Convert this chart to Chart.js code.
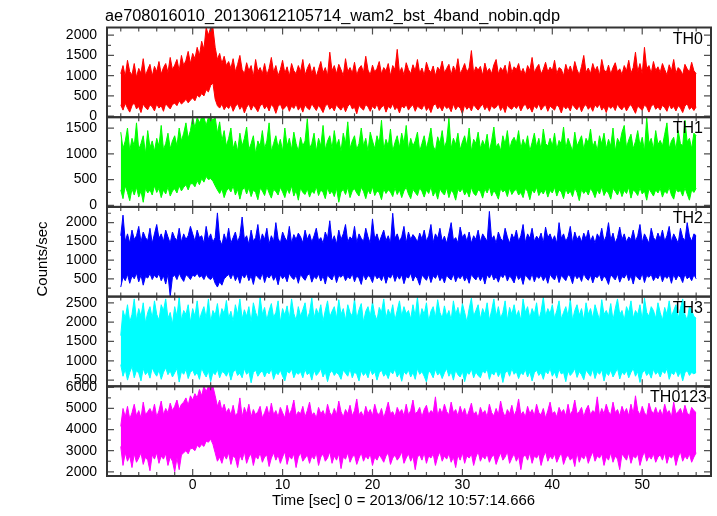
<!DOCTYPE html>
<html>
<head>
<meta charset="utf-8">
<script src="https://cdn.jsdelivr.net/npm/chart.js@4/dist/chart.umd.min.js"></script>
<style>
  html, body { margin: 0; background: #fff; }
  #wrap { position: relative; width: 717px; height: 516px; }
</style>
</head>
<body>
<div id="wrap"><canvas id="lc" width="717" height="516"></canvas></div>
<script>
// light curve bins: 0.25 s wide, first bin at t = -8 s
const T0 = -8;
const DT = 0.25;

const mainTitle = 'ae708016010_20130612105714_wam2_bst_4band_nobin.qdp';
const xTitle = 'Time [sec] 0 = 2013/06/12 10:57:14.666';
const yTitle = 'Counts/sec';

const panelNames = ['TH0', 'TH1', 'TH2', 'TH3', 'TH0123'];
const panelColors = ['#ff0000', '#00ff00', '#0000ff', '#00ffff', '#ff00ff'];
const yMin = [-25, -30, 25, 340, 1800];
const yMax = [2190, 1710, 2420, 2660, 6050];
const th0Ticks = [0, 500, 1000, 1500, 2000];
const th1Ticks = [0, 500, 1000, 1500];
const th2Ticks = [500, 1000, 1500, 2000];
const th3Ticks = [500, 1000, 1500, 2000, 2500];
const th0123Ticks = [2000, 3000, 4000, 5000, 6000];
const timeTicks = [0, 10, 20, 30, 40, 50];

// upper / lower envelope of each band (counts/sec)
const th0Upper = [
  1050, 1250, 980, 1380, 1100, 1020, 1300, 960, 1180, 1060, 1420, 1000, 1150, 1280, 990, 1230,
  1100, 1350, 1040, 1200, 1300, 1080, 1450, 1150, 1260, 1400, 1120, 1500, 1250, 1380, 1600, 1300,
  1550, 1420, 1700, 1500, 1850, 1650, 2190, 2000, 2190, 2190, 1700, 1400, 1550, 1300, 1480, 1250,
  1350, 1180, 1420, 1100, 1280, 1500, 1150, 1050, 1320, 1120, 1250, 980, 1400, 1100, 1200, 1050,
  1300, 1020, 1180, 1450, 1080, 1250, 1000, 1150, 1380, 1060, 1220, 990, 1300, 1120, 1050, 1250,
  1100, 1400, 1020, 1180, 1300, 1050, 1220, 980, 1160, 1350, 1070, 1200, 1000, 1580, 1120, 1250,
  1050, 1280, 1150, 1000, 1420, 1100, 1200, 1060, 1330, 1010, 1180, 1250, 1080, 1480, 1140, 1020,
  1260, 1090, 1180, 1350, 1040, 1200, 1120, 1300, 1000, 1250, 1150, 1650, 1080, 1200, 1020, 1320,
  1150, 1050, 1270, 1120, 1400, 1060, 1190, 1010, 1330, 1150, 1080, 1240, 1000, 1210, 1130, 1360,
  1070, 1180, 1280, 1020, 1240, 1100, 1420, 1050, 1160, 1300, 1090, 1190, 1620, 1060, 1220, 1140,
  1230, 1010, 1310, 1100, 1180, 1050, 1270, 1400, 1040, 1200, 1120, 1260, 990, 1350, 1080, 1220,
  1150, 1300, 1060, 1180, 1020, 1250, 1130, 1450, 1070, 1200, 1280, 1040, 1160, 1330, 1090, 1210,
  1120, 1380, 1050, 1200, 1160, 1000, 1280, 1100, 1240, 1060, 1350, 1150, 1020, 1230, 1500, 1080,
  1190, 1050, 1300, 1120, 1230, 1010, 1400, 1150, 1080, 1260, 1040, 1200, 1320, 1090, 1170, 1030,
  1250, 1120, 1380, 1060, 1200, 1580, 1100, 1300, 1040, 1700, 1180, 1250, 1060, 1350, 1130, 1220,
  1080, 1300, 1150, 1020, 1270, 1110, 1400, 1060, 1200, 1140, 1020, 1280, 1170, 1090, 1330, 1120,
  1050
];
const th0Lower = [
  280, 150, 320, 200, 100, 260, 330, 180, 240, 90, 300, 210, 160, 280, 230, 130,
  300, 200, 260, 120, 310, 240, 180, 290, 320, 260, 380, 300, 350, 420, 330, 400,
  450, 380, 520, 470, 560, 500, 650, 600, 760, 820, 420, 260, 200, 300, 160, 250,
  190, 290, 120, 240, 310, 170, 260, 80, 220, 300, 150, 270, 200, 110, 250, 310,
  180, 260, 130, 290, 220, 70, 240, 300, 160, 210, 280, 120, 250, 190, 300, 150,
  240, 100, 280, 200, 160, 310, 220, 140, 270, 190, 90, 250, 300, 170, 230, 130,
  290, 200, 150, 260, 110, 240, 310, 180, 220, 60, 270, 200, 150, 290, 230, 120,
  250, 180, 300, 140, 220, 270, 100, 240, 190, 310, 160, 230, 80, 260, 200, 290,
  150, 230, 280, 120, 250, 200, 170, 300, 140, 220, 90, 260, 310, 180, 240, 130,
  270, 190, 230, 110, 300, 160, 250, 200, 60, 280, 170, 240, 130, 290, 210, 150,
  230, 300, 160, 250, 120, 270, 190, 220, 310, 140, 240, 90, 280, 200, 170, 260,
  190, 280, 130, 240, 300, 170, 220, 100, 260, 190, 310, 150, 230, 280, 120, 250,
  200, 150, 290, 220, 80, 260, 180, 240, 130, 300, 210, 160, 270, 110, 230, 290,
  170, 240, 120, 280, 210, 300, 150, 230, 90, 260, 190, 250, 140, 300, 200, 160,
  260, 130, 230, 290, 180, 70, 250, 200, 140, 280, 220, 100, 240, 300, 170, 230,
  150, 270, 210, 120, 290, 180, 240, 130, 260, 200, 90, 250, 310, 170, 220, 140,
  230
];
const th1Upper = [
  1420, 1100, 1250, 1500, 1050, 1300, 1150, 1600, 1080, 1200, 1350, 1000, 1450, 1120, 1250, 1050,
  1300, 1150, 1550, 1080, 1200, 1400, 1100, 1250, 1350, 1150, 1500, 1250, 1400, 1600, 1300, 1450,
  1710, 1500, 1710, 1600, 1710, 1710, 1550, 1710, 1710, 1650, 1710, 1400, 1620, 1250, 1450, 1150,
  1300, 1500, 1100, 1250, 1050, 1400, 1150, 1300, 1520, 1080, 1200, 1350, 1000, 1250, 1150, 1450,
  1100, 1250, 1600, 1050, 1200, 1350, 1120, 1280, 1050, 1500, 1150, 1300, 1080, 1420, 1200, 1050,
  1320, 1150, 1250, 1680, 1100, 1200, 1400, 1050, 1300, 1150, 1550, 1080, 1250, 1350, 1100, 1450,
  1150, 1280, 1050, 1400, 1200, 1620, 1100, 1250, 1350, 1080, 1200, 1500, 1150, 1300, 1050, 1420,
  1250, 1100, 1350, 1200, 1650, 1080, 1280, 1150, 1480, 1050, 1220, 1350, 1120, 1400, 1200, 1550,
  1080, 1300, 1150, 1250, 1420, 1050, 1200, 1350, 1100, 1280, 1500, 1150, 1060, 1330, 1200, 1450,
  1120, 1250, 1690, 1100, 1300, 1180, 1400, 1080, 1230, 1350, 1150, 1500, 1050, 1280, 1200, 1420,
  1100, 1260, 1150, 1380, 1050, 1250, 1520, 1130, 1200, 1060, 1350, 1180, 1450, 1090, 1250, 1320,
  1200, 1450, 1100, 1280, 1150, 1350, 1050, 1220, 1400, 1130, 1300, 1080, 1480, 1200, 1150, 1300,
  1150, 1400, 1080, 1260, 1200, 1520, 1100, 1300, 1180, 1050, 1420, 1150, 1250, 1350, 1080, 1300,
  1210, 1480, 1130, 1250, 1060, 1350, 1190, 1400, 1100, 1280, 1150, 1500, 1050, 1300, 1200, 1420,
  1550, 1120, 1270, 1380, 1100, 1240, 1450, 1160, 1320, 1050, 1700, 1200, 1300, 1090, 1450, 1180,
  1260, 1150, 1380, 1600, 1100, 1250, 1320, 1080, 1450, 1200, 1150, 1650, 1230, 1300, 1100, 1400,
  1350
];
const th1Lower = [
  300, 130, 380, 250, 90, 320, 200, 350, 160, 280, 60, 330, 240, 300, 200, 380,
  250, 330, 150, 300, 220, 360, 180, 280, 320, 240, 380, 280, 350, 400, 300, 420,
  420, 360, 480, 400, 520, 450, 560, 500, 520, 470, 380, 300, 230, 320, 150, 280,
  330, 260, 380, 200, 310, 120, 290, 350, 220, 340, 170, 300, 250, 110, 330, 280,
  190, 360, 240, 140, 310, 270, 200, 350, 260, 150, 320, 230, 380, 180, 290, 100,
  340, 250, 210, 320, 160, 280, 230, 360, 190, 300, 250, 130, 340, 220, 280, 170,
  330, 60, 260, 310, 210, 350, 150, 280, 320, 240, 180, 350, 270, 130, 300, 220,
  360, 190, 280, 250, 110, 320, 230, 300, 260, 170, 340, 210, 300, 150, 280, 350,
  220, 130, 310, 250, 190, 340, 270, 160, 300, 230, 360, 180, 280, 120, 320, 250,
  200, 340, 150, 290, 240, 100, 310, 260, 330, 200, 280, 160, 350, 230, 190, 300,
  270, 140, 320, 240, 360, 180, 290, 220, 120, 330, 260, 300, 170, 340, 210, 280,
  310, 200, 250, 150, 330, 270, 110, 300, 240, 350, 190, 280, 220, 320, 160, 290,
  240, 350, 180, 300, 260, 130, 320, 220, 280, 170, 340, 250, 90, 310, 230, 290,
  200, 330, 260, 150, 300, 220, 360, 190, 280, 240, 120, 330, 270, 200, 310, 170,
  290, 230, 350, 140, 300, 260, 190, 340, 220, 280, 100, 320, 250, 180, 300, 240,
  330, 160, 280, 230, 350, 200, 120, 310, 260, 290, 180, 340, 220, 100, 300, 250,
  330
];
const th2Upper = [
  1650, 2200, 1500, 1700, 1450, 1800, 1550, 1650, 1900, 1480, 1750, 1600, 1520, 1850, 1450, 1700,
  1950, 1580, 1700, 1500, 1800, 1620, 1450, 1750, 1600, 1520, 1850, 1480, 1700, 1550, 1650, 1900,
  1700, 1500, 1800, 1600, 1650, 1450, 1900, 1550, 1700, 1480, 1600, 2260, 1550, 1400, 1700, 1500,
  1850, 1450, 1600, 1750, 1480, 1650, 2150, 1550, 1650, 1420, 1800, 1500, 1600, 1950, 1470, 1700,
  1550, 1850, 1430, 1650, 1500, 2000, 1580, 1450, 1750, 1600, 1500, 1900, 1450, 1680, 1550, 1720,
  1620, 1460, 1800, 1550, 1700, 1480, 1650, 1850, 1520, 1600, 1450, 1750, 1580, 2050, 1500, 1650,
  1430, 1800, 1550, 1700, 1950, 1480, 1620, 1550, 1900, 1460, 1700, 1580, 1500, 1850, 1620, 1450,
  2100, 1560, 1700, 1480, 1640, 1800, 1520, 1650, 1450, 2250, 1580, 1700, 1500, 1620, 1900, 1460,
  1750, 1550, 1680, 1600, 1480, 1720, 1560, 1800, 1500, 1650, 1950, 1470, 1700, 1580, 1850, 1500,
  1640, 1450, 1720, 2000, 1530, 1600, 1460, 1880, 1600, 1700, 1500, 1750, 1450, 1650, 1550, 1800,
  1480, 1700, 1600, 1500, 2300, 1550, 1650, 1450, 1750, 1580, 1500, 1850, 1620, 1450, 1700, 1560,
  1800, 1500, 1650, 1950, 1470, 1700, 1580, 1850, 1500, 1640, 1550, 1720, 1460, 1880, 1600, 1700,
  1520, 1650, 1450, 2000, 1580, 1700, 1500, 1620, 1900, 1460, 1750, 1550, 1650, 1480, 1720, 1560,
  1800, 1500, 1650, 1450, 1700, 1580, 1850, 1500, 1640, 2000, 1530, 1720, 1460, 1600, 1880, 1550,
  1700, 1480, 1620, 1550, 1800, 1500, 1650, 1950, 1470, 1700, 1580, 1450, 1850, 1600, 1520, 1720,
  1560, 1800, 1500, 1650, 1900, 1480, 1700, 1580, 1450, 1850, 1600, 1520, 2000, 1640, 1500, 1700,
  1650
];
const th2Lower = [
  280, 550, 450, 620, 380, 580, 500, 650, 420, 600, 330, 560, 520, 640, 480, 600,
  520, 640, 450, 580, 360, 620, 30, 540, 600, 480, 650, 520, 430, 610, 560, 480,
  600, 560, 650, 540, 580, 480, 620, 520, 480, 560, 380, 280, 420, 330, 500, 560,
  620, 500, 650, 450, 580, 380, 610, 520, 640, 450, 580, 350, 620, 540, 480, 660,
  400, 590, 520, 630, 460, 570, 340, 610, 500, 580, 420, 650, 540, 480, 600, 380,
  620, 530, 460, 590, 640, 410, 560, 500, 630, 440, 580, 360, 610, 520, 470, 650,
  400, 590, 540, 620, 450, 560, 500, 640, 420, 580, 510, 350, 620, 470, 590, 540,
  400, 630, 500, 560, 450, 610, 380, 570, 520, 640, 430, 590, 490, 610, 370, 560,
  520, 650, 440, 580, 500, 330, 600, 530, 460, 620, 400, 580, 510, 640, 450, 560,
  390, 600, 520, 470, 630, 420, 570, 500, 610, 440, 560, 380, 620, 530, 470, 600,
  450, 580, 360, 610, 520, 640, 470, 560, 410, 600, 530, 650, 440, 580, 500, 390,
  620, 480, 560, 350, 610, 530, 460, 640, 420, 580, 510, 600, 450, 570, 380, 620,
  530, 470, 640, 400, 590, 520, 450, 610, 560, 370, 620, 500, 580, 430, 650, 520,
  460, 600, 390, 570, 530, 620, 440, 580, 500, 350, 610, 540, 470, 630, 410, 560,
  520, 640, 450, 580, 360, 610, 520, 470, 650, 400, 590, 540, 620, 450, 560, 500,
  640, 420, 580, 510, 600, 380, 620, 470, 590, 540, 400, 630, 500, 560, 450, 610,
  500
];
const th3Upper = [
  1650, 2300, 2100, 2450, 2000, 2200, 2600, 2050, 2350, 2150, 2500, 1980, 2250, 2400, 2100, 2550,
  2200, 2050, 2450, 2300, 2600, 2100, 2250, 1950, 2400, 2150, 2650, 2050, 2300, 2200, 2450, 2000,
  2350, 2150, 2550, 2050, 2250, 2400, 2100, 2600, 2000, 2300, 2180, 2480, 2050, 2350, 2220, 2560,
  2100, 2280, 2020, 2450, 2200, 2600, 2080, 2320, 2150, 2400, 2000, 2500, 2250, 2100, 2650, 2200,
  2380, 2050, 2300, 2480, 2120, 2250, 2550, 2000, 2350, 2180, 2420, 2080, 2600, 2220, 2050, 2400,
  2150, 2320, 2500, 2080, 2250, 2620, 2100, 2350, 2200, 2450, 2020, 2300, 2550, 2130, 2280, 2400,
  2100, 2580, 2200, 2350, 2050, 2450, 2250, 2150, 2600, 2080, 2320, 2480, 2000, 2280, 2400, 2150,
  2520, 2200, 2050, 2380, 2250, 2600, 2100, 2330, 2180, 2450, 2050, 2300, 2550, 2150, 2400, 2220,
  2300, 2080, 2450, 2150, 2650, 2050, 2350, 2200, 2500, 2020, 2280, 2400, 2120, 2580, 2250, 2100,
  2420, 2150, 2300, 2050, 2550, 2200, 2380, 2100, 2480, 2250, 2000, 2350, 2620, 2150, 2300, 2450,
  2080, 2350, 2200, 2500, 2050, 2300, 2600, 2150, 2400, 2100, 2250, 2550, 2050, 2380, 2200, 2450,
  2150, 2300, 2050, 2600, 2250, 2400, 2100, 2350, 2200, 2500, 2050, 2280, 2650, 2150, 2350, 2220,
  2450, 2100, 2300, 2550, 2080, 2250, 2400, 2150, 2600, 2050, 2300, 2450, 2180, 2350, 2050, 2500,
  2200, 2350, 2100, 2450, 2250, 2050, 2580, 2200, 2300, 2150, 2480, 2050, 2350, 2600, 2200, 2300,
  2050, 2400, 2250, 2550, 2100, 2300, 2200, 2450, 2050, 2620, 2250, 2150, 2400, 2300, 2100, 2500,
  2250, 2050, 2380, 2200, 2550, 2150, 2300, 2450, 2100, 2350, 2600, 2200, 2050, 2400, 2300, 2150,
  2100
];
const th3Lower = [
  900, 600, 780, 500, 700, 850, 560, 750, 680, 480, 800, 640, 720, 550, 820, 690,
  600, 760, 520, 700, 820, 640, 740, 580, 690, 800, 450, 720, 650, 780, 540, 700,
  760, 620, 700, 520, 810, 680, 580, 740, 460, 700, 640, 780, 560, 720, 690, 600,
  740, 500, 700, 780, 620, 680, 560, 800, 650, 720, 430, 700, 760, 600, 690, 740,
  580, 720, 660, 800, 520, 700, 640, 760, 600, 480, 730, 680, 790, 560, 700, 650,
  720, 560, 780, 640, 700, 500, 760, 620, 690, 800, 580, 720, 460, 680, 750, 620,
  700, 640, 520, 760, 680, 600, 790, 560, 710, 650, 480, 740, 620, 700, 560, 780,
  640, 720, 500, 690, 760, 600, 680, 540, 740, 660, 790, 580, 700, 470, 720, 650,
  760, 580, 700, 520, 800, 650, 720, 600, 450, 740, 680, 560, 780, 630, 700, 540,
  690, 800, 600, 720, 500, 760, 640, 580, 730, 460, 700, 650, 790, 560, 710, 620,
  560, 740, 680, 790, 520, 700, 630, 760, 590, 720, 440, 680, 750, 600, 800, 650,
  720, 540, 700, 640, 780, 580, 720, 480, 690, 760, 620, 700, 520, 740, 660, 800,
  600, 710, 550, 780, 660, 700, 460, 740, 620, 690, 800, 570, 720, 640, 510, 760,
  680, 600, 790, 540, 720, 650, 770, 480, 700, 620, 760, 580, 690, 800, 530, 710,
  640, 750, 560, 700, 800, 600, 720, 440, 680, 760, 620, 700, 550, 780, 650, 720,
  580, 740, 670, 800, 520, 700, 640, 760, 590, 720, 480, 690, 750, 620, 700, 660,
  700
];
const th0123Upper = [
  4150, 5000, 4600, 5100, 4500, 4800, 5200, 4650, 4900, 4550, 5300, 4700, 4850, 5000, 4750, 5200,
  4600, 4900, 5350, 4700, 5000, 4800, 5250, 4900, 5100, 5400, 4950, 5200, 5300, 5500, 5150, 5600,
  5400, 5700, 5500, 5900, 5600, 6050, 5800, 6050, 6050, 6050, 5600, 5100, 5400, 4900, 5200, 4800,
  5000, 4700, 5150, 4650, 4800, 5500, 4600, 5050, 4750, 5200, 4600, 4950, 4700, 4850, 5100, 4550,
  4800, 5100, 4650, 5250, 4700, 4900, 4600, 5050, 4800, 4550, 5150, 4700, 4950, 5400, 4650, 4850,
  4750, 5100, 4600, 4900, 5300, 4700, 4800, 4550, 5050, 4750, 4900, 4600, 5200, 4800, 4650, 5000,
  4700, 5350, 4850, 4600, 4950, 4750, 5150, 4650, 4900, 5450, 4700, 4850, 4600, 5100, 4750, 4950,
  4650, 5200, 4800, 4700, 5000, 4550, 4900, 5300, 4750, 4850, 4600, 5050, 4800, 4950, 4650, 5200,
  4700, 4900, 5400, 4750, 4850, 5050, 4600, 4950, 5150, 4700, 4900, 4800, 5550, 4650, 5000, 4750,
  5200, 4850, 4700, 5300, 4800, 4950, 4650, 5100, 4750, 5000, 4600, 4900, 5250, 4700, 4850, 4550,
  5050, 4750, 4900, 4600, 5200, 4800, 4650, 5000, 4700, 5350, 4850, 4600, 4950, 4750, 5150, 4650,
  4900, 5450, 4700, 4850, 4600, 5100, 4750, 4950, 4650, 5200, 4800, 4700, 5000, 4550, 4900, 5300,
  4750, 4850, 4600, 5050, 4800, 4950, 4650, 5200, 4700, 4900, 5400, 4750, 4850, 5050, 4600, 4950,
  5150, 4700, 4900, 4800, 5550, 4650, 5000, 4750, 5200, 4850, 4700, 5300, 4800, 4950, 4650, 5100,
  4800, 5000, 4650, 5200, 4750, 5600, 4900, 4700, 5100, 4800, 4650, 5250, 4900, 4750, 5050, 4700,
  4950, 4650, 5200, 4800, 4900, 4600, 5300, 4750, 4850, 5000, 4700, 5150, 4800, 4650, 5050, 4900,
  4800
];
const th0123Lower = [
  3200, 2300, 2900, 2500, 2750, 2200, 2850, 2450, 2650, 2900, 2350, 2700, 2550, 2050, 2800, 2600,
  2900, 2400, 2750, 2600, 2850, 2300, 2700, 2500, 2000, 2650, 2100, 2800, 2900, 3000, 2850, 3100,
  3100, 3000, 3250, 3150, 3300, 3200, 3450, 3400, 3550, 3300, 2900, 2500, 2700, 2400, 2800, 2600,
  2900, 2350, 2750, 2650, 2200, 2800, 2550, 2950, 2400, 2700, 2850, 2300, 2750, 2600, 2900, 2450,
  2700, 2800, 2250, 2650, 2900, 2550, 2800, 2400, 2700, 2950, 2350, 2750, 2600, 2850, 2200, 2700,
  2900, 2500, 2650, 2800, 2400, 2750, 2600, 2900, 2300, 2700, 2850, 2500, 2650, 2950, 2400, 2750,
  2550, 2850, 2150, 2700, 2600, 2900, 2450, 2700, 2800, 2350, 2650, 2900, 2500, 2750, 2600, 2850,
  2300, 2700, 2550, 2800, 2650, 2450, 2750, 2900, 2350, 2650, 2800, 2550, 2700, 2950, 2400, 2650,
  2850, 2500, 2750, 2100, 2700, 2800, 2550, 2900, 2400, 2750, 2650, 2850, 2300, 2700, 2950, 2500,
  2750, 2600, 2850, 2450, 2700, 2200, 2800, 2550, 2900, 2400, 2750, 2650, 2850, 2300, 2700, 2950,
  2500, 2750, 2600, 2850, 2450, 2700, 2800, 2350, 2650, 2900, 2550, 2700, 2950, 2400, 2650, 2850,
  2500, 2750, 2100, 2700, 2800, 2550, 2900, 2400, 2750, 2650, 2850, 2300, 2700, 2950, 2500, 2750,
  2600, 2850, 2450, 2700, 2900, 2350, 2650, 2800, 2550, 2700, 2250, 2900, 2450, 2750, 2600, 2850,
  2400, 2700, 2950, 2500, 2750, 2650, 2850, 2300, 2700, 2550, 2900, 2450, 2750, 2600, 2100, 2850,
  2700, 2550, 2900, 2400, 2750, 2650, 2850, 2300, 2700, 2950, 2500, 2750, 2600, 2850, 2450, 2700,
  2800, 2550, 2900, 2400, 2750, 2650, 2850, 2300, 2700, 2950, 2500, 2750, 2600, 2850, 2450, 2700,
  2900
];

const uppers = [th0Upper, th1Upper, th2Upper, th3Upper, th0123Upper];
const lowers = [th0Lower, th1Lower, th2Lower, th3Lower, th0123Lower];
const panelTicks = [th0Ticks, th1Ticks, th2Ticks, th3Ticks, th0123Ticks];

const FONT = '"Liberation Sans", Arial, sans-serif';

function toPoints(arr) {
  return arr.map((v, i) => ({ x: T0 + i * DT, y: v }));
}

// draw text squeezed/stretched to a given width (PGPLOT fonts run wide)
function fitText(ctx, text, x, y, width, size) {
  ctx.font = size + 'px ' + FONT;
  const w = ctx.measureText(text).width;
  ctx.save();
  ctx.translate(x, y);
  ctx.scale(width / w, 1);
  ctx.textAlign = 'left';
  ctx.textBaseline = 'alphabetic';
  ctx.fillText(text, 0, 0);
  ctx.restore();
}

const qdpFrame = {
  id: 'qdpFrame',
  afterDraw(chart) {
    const ctx = chart.ctx;
    const xs = chart.scales.x;
    const area = chart.chartArea;
    ctx.save();
    panelNames.forEach((name, i) => {
      const ys = chart.scales['y' + i];
      const ticks = panelTicks[i];
      const major = ticks[1] - ticks[0];
      ctx.strokeStyle = '#505050';
      ctx.lineWidth = 1.2;
      ctx.beginPath();
      for (let t = -10; t <= 60; t += 2) {
        if (t < xs.min || t > xs.max) continue;
        const px = xs.getPixelForValue(t);
        const len = t % 10 === 0 ? 7 : 4;
        ctx.moveTo(px, ys.top); ctx.lineTo(px, ys.top + len);
        ctx.moveTo(px, ys.bottom); ctx.lineTo(px, ys.bottom - len);
      }
      const half = major / 2;
      for (let v = Math.ceil(ys.min / half) * half; v <= ys.max; v += half) {
        const py = ys.getPixelForValue(v);
        const len = v % major === 0 ? 7 : 4;
        ctx.moveTo(area.left, py); ctx.lineTo(area.left + len, py);
        ctx.moveTo(area.right, py); ctx.lineTo(area.right - len, py);
      }
      ctx.stroke();
      ctx.strokeStyle = '#333';
      ctx.lineWidth = 2;
      ctx.strokeRect(area.left, ys.top, area.right - area.left, ys.bottom - ys.top);

      ctx.fillStyle = '#000';
      ctx.font = '16px ' + FONT;
      ctx.textAlign = 'right';
      ctx.textBaseline = 'alphabetic';
      ctx.fillText(name, area.right - (name.length > 3 ? 4 : 8), ys.top + 16);
    });

    ctx.fillStyle = '#000';
    fitText(ctx, mainTitle, 105, 20.5, 455, 16);
    fitText(ctx, xTitle, 272, 504.5, 263, 15);

    ctx.font = '15px ' + FONT;
    ctx.translate(46.5, 259);
    ctx.rotate(-Math.PI / 2);
    ctx.textAlign = 'center';
    ctx.textBaseline = 'alphabetic';
    ctx.fillText(yTitle, 0, 0);
    ctx.restore();
  }
};

const datasets = [];
const scales = {
  x: {
    type: 'linear',
    position: 'bottom',
    min: -9.53,
    max: 57.65,
    afterFit: s => { s.height = 40; },
    afterBuildTicks: s => { s.ticks = timeTicks.map(v => ({ value: v })); },
    grid: { display: false, drawTicks: false },
    border: { display: false },
    ticks: {
      padding: 1,
      maxRotation: 0,
      autoSkip: false,
      color: '#000',
      font: { family: FONT, size: 14 },
      callback: v => String(v)
    }
  }
};

panelNames.forEach((name, i) => {
  const id = 'y' + i;
  datasets.push({
    label: name + ' upper',
    data: toPoints(uppers[i]),
    yAxisID: id,
    borderColor: panelColors[i],
    borderWidth: 1,
    pointRadius: 0,
    fill: false
  });
  datasets.push({
    label: name + ' lower',
    data: toPoints(lowers[i]),
    yAxisID: id,
    borderColor: panelColors[i],
    backgroundColor: panelColors[i],
    borderWidth: 1,
    pointRadius: 0,
    fill: '-1'
  });
  scales[id] = {
    type: 'linear',
    position: 'left',
    stack: 'lc',
    stackWeight: 1,
    weight: 5 - i,
    min: yMin[i],
    max: yMax[i],
    afterFit: s => { s.width = 107; },
    afterBuildTicks: s => { s.ticks = panelTicks[i].map(v => ({ value: v })); },
    grid: { display: false, drawTicks: false },
    border: { display: false },
    ticks: {
      padding: 10,
      autoSkip: false,
      color: '#000',
      font: { family: FONT, size: 14 },
      callback: v => String(v)
    }
  };
});

new Chart(document.getElementById('lc'), {
  type: 'line',
  data: { datasets },
  options: {
    responsive: false,
    animation: false,
    devicePixelRatio: 1,
    layout: { padding: { left: 0, right: 6, top: 27.5, bottom: 0 } },
    plugins: {
      legend: { display: false },
      tooltip: { enabled: false }
    },
    scales
  },
  plugins: [qdpFrame]
});
</script>
</body>
</html>
